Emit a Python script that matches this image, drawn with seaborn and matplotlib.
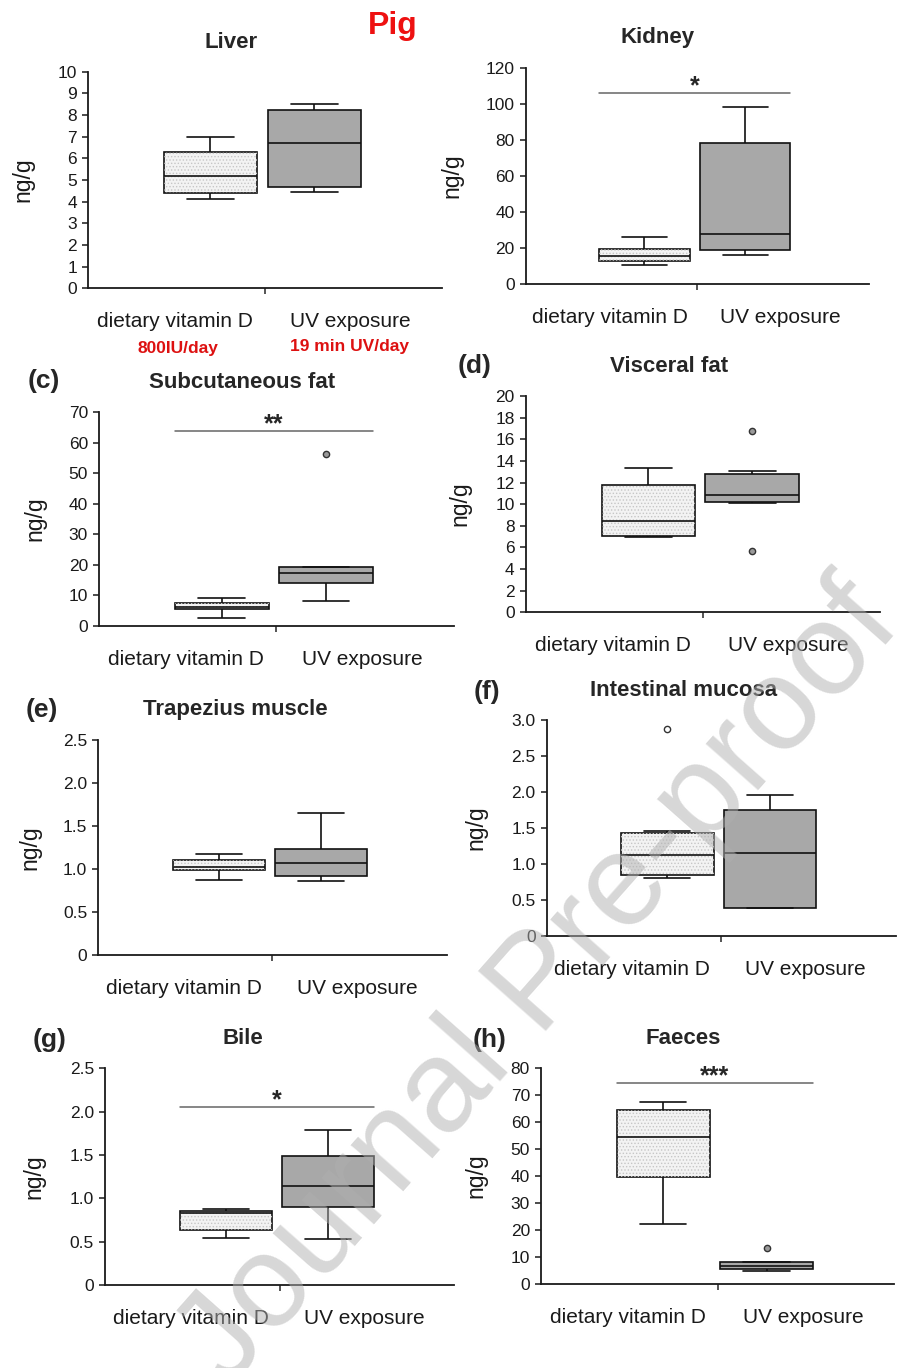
import numpy as np
import pandas as pd
import matplotlib
matplotlib.use('Agg')
import matplotlib.pyplot as plt
from matplotlib.patches import PathPatch
import seaborn as sns

groups = ['dietary vitamin D', 'UV exposure']

# five-number summaries: low whisker, Q1, median, Q3, high whisker
liver_diet = [4.1, 4.4, 5.2, 6.3, 7.0]
liver_uv = [4.46, 4.67, 6.69, 8.23, 8.49]
kidney_diet = [10.7, 12.6, 15.7, 19.4, 26.1]
kidney_uv = [16.1, 18.9, 27.6, 78.1, 98.4]
subcut_diet = [2.4, 5.4, 6.2, 7.3, 9.1]
subcut_uv = [8.1, 14.1, 17.2, 19.2, 19.2]
visceral_diet = [6.99, 7.05, 8.44, 11.74, 13.34]
visceral_uv = [10.1, 10.22, 10.87, 12.78, 13.03]
trap_diet = [0.872, 0.988, 1.027, 1.105, 1.17]
trap_uv = [0.857, 0.915, 1.074, 1.233, 1.651]
mucosa_diet = [0.80, 0.847, 1.125, 1.43, 1.46]
mucosa_uv = [0.393, 0.393, 1.157, 1.75, 1.954]
bile_diet = [0.546, 0.635, 0.827, 0.857, 0.877]
bile_uv = [0.534, 0.90, 1.142, 1.488, 1.785]
faeces_diet = [22.2, 39.7, 54.6, 64.4, 67.4]
faeces_uv = [4.9, 5.4, 6.8, 8.0, 8.0]

# outlying points per group
subcut_out = [[], [56.2]]
visceral_out = [[], [16.73, 5.69]]
mucosa_out = [[2.87], []]
faeces_out = [[], [13.2]]
no_out = [[], []]

# y ticks
liver_ticks = list(range(0, 11))
kidney_ticks = list(range(0, 121, 20))
subcut_ticks = list(range(0, 71, 10))
visceral_ticks = list(range(0, 21, 2))
trap_ticks = [0, 0.5, 1.0, 1.5, 2.0, 2.5]
trap_labels = ['0', '0.5', '1.0', '1.5', '2.0', '2.5']
mucosa_ticks = [0, 0.5, 1.0, 1.5, 2.0, 2.5, 3.0]
mucosa_labels = ['0', '0.5', '1.0', '1.5', '2.0', '2.5', '3.0']
faeces_ticks = list(range(0, 81, 10))

# significance bars: (height of bar, stars)
kidney_sig = (105.8, '*')
subcut_sig = (63.8, '**')
bile_sig = (2.05, '*')
faeces_sig = (74.6, '***')

sns.set_style('ticks')
plt.rcParams['font.family'] = ['Liberation Sans', 'DejaVu Sans']
plt.rcParams['hatch.linewidth'] = 0.6

W, H = 918, 1368
fig = plt.figure(figsize=(W / 100, H / 100), dpi=100)


def px_axes(l, r, t, b):
    return fig.add_axes([l / W, 1 - b / H, (r - l) / W, (b - t) / H])


def panel(rect, letter, diet, uv, outliers, ticks, labels=None,
          sig=None, ylab_off=55):
    ax = px_axes(*rect)
    df = pd.DataFrame({'group': [groups[0]] * 5 + [groups[1]] * 5,
                       'value': diet + uv})
    sns.boxplot(data=df, x='group', y='value', hue='group', order=groups,
                hue_order=groups, palette=['#f3f3f3', '#a8a8a8'],
                legend=False, width=0.9, whis=(0, 100), linecolor='#111111',
                linewidth=1.2, ax=ax)
    # fine stipple on the dietary box
    box = ax.patches[0]
    ax.add_patch(PathPatch(box.get_path(), transform=box.get_transform(),
                           facecolor='none', edgecolor='#c6c6c6', lw=0,
                           hatch='.....', zorder=box.get_zorder() + 0.05))
    for i, pts in enumerate(outliers):
        if pts:
            face = 'white' if letter == '(f)' else '#9a9a9a'
            ax.plot([i] * len(pts), pts, 'o', ms=4.5, mfc=face, mec='#333333',
                    mew=1, zorder=5)
    if sig is not None:
        y, stars = sig
        ax.plot([-0.45, 1.45], [y, y], color='#666666', lw=1.1)
        ax.text(0.5, y + 0.03 * ticks[-1], stars, ha='center', va='center',
                fontsize=18, fontweight='bold')

    ax.set_xlim(-1.18, 2.23)
    ax.set_ylim(0, ticks[-1])
    ax.set_yticks(ticks)
    ax.set_yticklabels(labels if labels else [str(t) for t in ticks])
    ax.set_xticks([0.525])
    ax.set_xticklabels([''])
    ax.set_xlabel('')
    ax.set_ylabel('ng/g', fontsize=16.5, color='#1a1a1a')
    ax.yaxis.set_label_coords(-ylab_off / (rect[1] - rect[0]), 0.5)
    ax.tick_params(axis='y', labelsize=12.5, length=4, width=1.1, pad=4,
                   colors='#1a1a1a')
    ax.tick_params(axis='x', length=4, width=1.1)
    for s in ['left', 'bottom']:
        ax.spines[s].set_linewidth(1.3)
        ax.spines[s].set_color('#1a1a1a')
    sns.despine(ax=ax)
    for xf, g in zip([0.245, 0.742], groups):
        ax.annotate(g, xy=(xf, 0), xycoords='axes fraction',
                    xytext=(0, -24), textcoords='offset points',
                    ha='center', va='center', fontsize=15, color='#1a1a1a')
    return ax


panel((88, 442, 71.7, 288.3), None, liver_diet, liver_uv, no_out,
      liver_ticks, ylab_off=54)
panel((525.7, 869, 67.7, 284), None, kidney_diet, kidney_uv, no_out,
      kidney_ticks, sig=kidney_sig, ylab_off=62)
panel((99, 454, 412.3, 625.7), '(c)', subcut_diet, subcut_uv, subcut_out,
      subcut_ticks, sig=subcut_sig, ylab_off=53)
panel((525.7, 880, 396, 612.3), '(d)', visceral_diet, visceral_uv,
      visceral_out, visceral_ticks, ylab_off=54)
panel((98.3, 446.7, 740, 955), '(e)', trap_diet, trap_uv, no_out,
      trap_ticks, trap_labels, ylab_off=57)
panel((546.7, 895.7, 720, 936), '(f)', mucosa_diet, mucosa_uv, mucosa_out,
      mucosa_ticks, mucosa_labels, ylab_off=59)
panel((105, 454, 1068.3, 1285), '(g)', bile_diet, bile_uv, no_out,
      trap_ticks, trap_labels, sig=bile_sig, ylab_off=60)
panel((541, 894, 1068.3, 1284), '(h)', faeces_diet, faeces_uv, faeces_out,
      faeces_ticks, sig=faeces_sig, ylab_off=54)

titles = ['Liver', 'Kidney', 'Subcutaneous fat', 'Visceral fat',
          'Trapezius muscle', 'Intestinal mucosa', 'Bile', 'Faeces']
title_xy = [(231, 42), (657.5, 38), (242, 383), (668.7, 366),
            (235.5, 710), (684, 690), (242.5, 1038), (683, 1038)]
for t, (x, y) in zip(titles, title_xy):
    fig.text(x / W, 1 - y / H, t, ha='center', va='center', fontsize=16,
             fontweight='bold')

letters = ['(c)', '(d)', '(e)', '(f)', '(g)', '(h)']
letter_xy = [(44, 381), (475, 366), (42, 710), (487, 692), (50, 1040),
             (490, 1040)]
for t, (x, y) in zip(letters, letter_xy):
    fig.text(x / W, 1 - y / H, t, ha='center', va='center', fontsize=19,
             fontweight='bold')

fig.text(393 / W, 1 - 26 / H, 'Pig', ha='center', va='center', fontsize=23,
         fontweight='bold', color='#ee1111')
fig.text(178 / W, 1 - 348 / H, '800IU/day', ha='center', va='center',
         fontsize=12.5, fontweight='bold', color='#dd1111')
fig.text(349 / W, 1 - 346.5 / H, '19 min UV/day', ha='center', va='center',
         fontsize=12.5, fontweight='bold', color='#dd1111')

# watermark, runs off the bottom edge as in the original
fig.text(540 / W, 1 - 985 / H, 'Journal Pre-proof', ha='center', va='center',
         rotation=48.5, fontsize=95, color='#b0b0b0', alpha=0.5, zorder=10)

fig.savefig('out.png', dpi=100)
